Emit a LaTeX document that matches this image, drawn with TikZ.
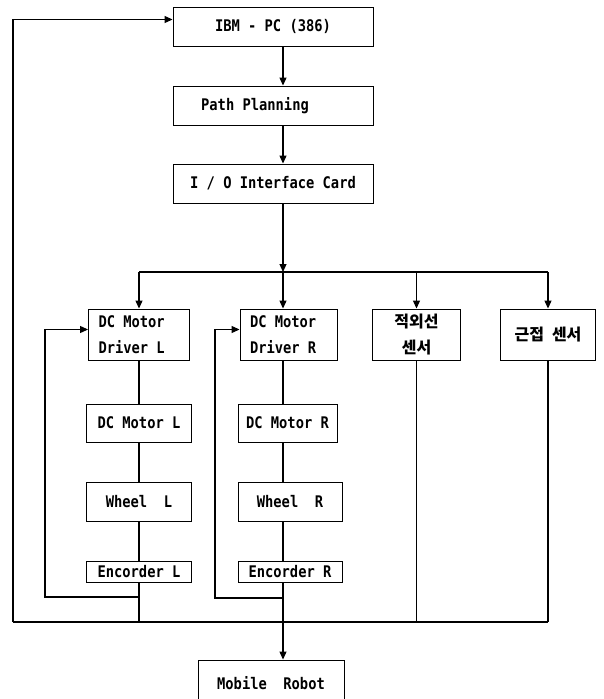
\documentclass[tikz,border=0pt]{standalone}
\usepackage{fontspec}
\newfontfamily\diagfont{DejaVu Sans Mono}[FakeStretch=0.86, WordSpace={1,0,0}]
\newfontfamily\krfont{Noto Sans CJK KR}
\usetikzlibrary{arrows.meta}

\tikzset{
  blk/.style={draw, line width=0.9pt, inner sep=0pt,
    font=\diagfont\bfseries\fontsize{16}{26}\selectfont},
  krblk/.style={blk, font=\krfont\bfseries\fontsize{16}{26}\selectfont},
  wire/.style={line width=1.1pt},
  flow/.style={wire, -{Triangle[length=8pt,width=7pt]}}
}

\begin{document}
\begin{tikzpicture}[x=1pt, y=-1pt]
\useasboundingbox (0,0) rectangle (603,699);

% upper chain
\node[blk, minimum width=200pt, minimum height=39pt] (ibm) at (273,26.5) {IBM - PC (386)};
\node[blk, minimum width=200pt, minimum height=39pt] (path) at (273,105.5) {Path Planning\hspace*{36pt}};
\node[blk, minimum width=200pt, minimum height=39pt] (io) at (273,183.5) {I / O Interface Card};

% left column
\node[blk, align=flush left, text width=81pt, inner xsep=10pt, minimum height=51pt] (drvL) at (139,334.5) {DC Motor\\Driver L};
\node[blk, minimum width=105pt, minimum height=38pt] (motorL) at (139,423) {DC Motor L};
\node[blk, minimum width=105pt, minimum height=39pt] (wheelL) at (139,501.5) {Wheel\ \ L};
\node[blk, minimum width=105pt, minimum height=21pt] (encL) at (139,571.5) {Encorder L};

% right column
\node[blk, align=flush left, text width=77pt, inner xsep=10pt, minimum height=51pt] (drvR) at (288.5,334.5) {DC Motor\\Driver R};
\node[blk, minimum width=99pt, minimum height=38pt] (motorR) at (287.5,423) {DC Motor R};
\node[blk, minimum width=104pt, minimum height=39pt] (wheelR) at (290,501.5) {Wheel\ \ R};
\node[blk, minimum width=104pt, minimum height=21pt] (encR) at (290,571.5) {Encorder R};

% sensors
\node[krblk, align=center, minimum width=88pt, minimum height=51pt] (ir) at (416.5,334.5) {적외선\\센서};
\node[krblk, minimum width=95pt, minimum height=51pt] (prox) at (548,334.5) {근접\hspace{8pt}센서};

\node[blk, minimum width=146pt, minimum height=46pt] (robot) at (271,683) {Mobile\ \ Robot};

\coordinate (stem) at (283,0);
\coordinate (busT) at (283,272);
\coordinate (busB) at (283,622);
\coordinate (loopL) at (13,622);
\coordinate (fbL) at (45,597);
\coordinate (fbR) at (215,598);

\draw[flow] (ibm.south -| stem) -- (path.north -| stem);
\draw[flow] (path.south -| stem) -- (io.north -| stem);
\draw[flow] (io.south -| stem) -- (busT);

% upper bus
\draw[wire] (drvL.north |- busT) -- (prox.north |- busT);
\draw[flow] (drvL.north |- busT) -- (drvL.north);
\draw[flow] (busT) -- (drvR.north -| stem);
\draw[flow] (ir.north |- busT) -- (ir.north);
\draw[flow] (prox.north |- busT) -- (prox.north);

% columns
\draw[wire] (drvL) -- (motorL);
\draw[wire] (motorL) -- (wheelL);
\draw[wire] (wheelL) -- (encL);
\draw[wire] (encL.south) -- (encL.south |- busB);
\draw[wire] (drvR.south -| stem) -- (motorR.north -| stem);
\draw[wire] (motorR.south -| stem) -- (wheelR.north -| stem);
\draw[wire] (wheelR.south -| stem) -- (encR.north -| stem);
\draw[wire] (encR.south -| stem) -- (busB);
\draw[wire] (ir.south) -- (ir.south |- busB);
\draw[wire] (prox.south) -- (prox.south |- busB);

% feedback
\draw[flow] (encL.south |- fbL) -- (fbL) |- ([yshift=5pt]drvL.west);
\draw[flow] (stem |- fbR) -- (fbR) |- ([yshift=5pt]drvR.west);

% lower bus
\draw[wire] (loopL) -- (prox.south |- busB);
\draw[flow] (loopL) |- ([yshift=7pt]ibm.west);
\draw[flow] (busB) -- (robot.north -| stem);
\end{tikzpicture}
\end{document}
